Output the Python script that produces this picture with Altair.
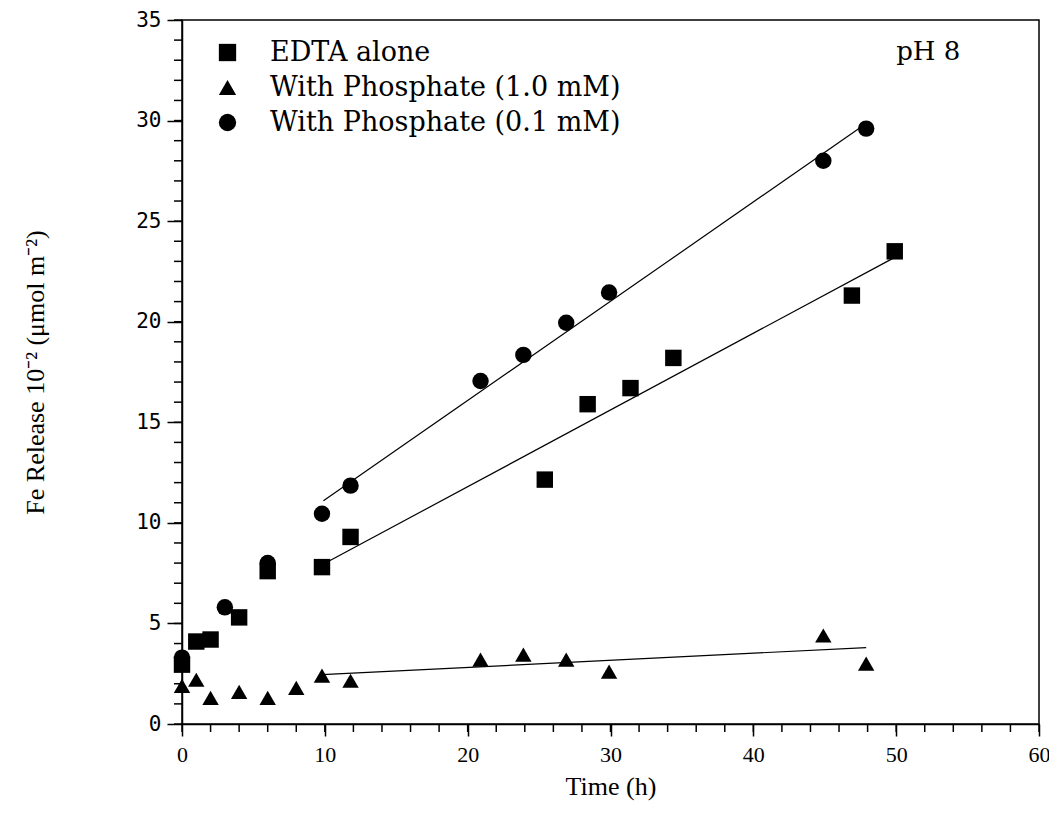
import altair as alt
import pandas as pd

series_names = ["EDTA alone", "With Phosphate (1.0 mM)", "With Phosphate (0.1 mM)"]

# EDTA alone (squares)
edta_t = [0, 1, 2, 4, 6, 9.8, 11.8, 25.4, 28.4, 31.4, 34.4, 46.9, 49.9]
edta_v = [2.95, 4.1, 4.2, 5.3, 7.6, 7.8, 9.3, 12.15, 15.9, 16.7, 18.2, 21.3, 23.5]

# With phosphate 1.0 mM (triangles)
p10_t = [0, 1, 2, 4, 6, 8, 9.8, 11.8, 20.9, 23.9, 26.9, 29.9, 44.9, 47.9]
p10_v = [1.9, 2.2, 1.3, 1.6, 1.3, 1.8, 2.4, 2.15, 3.2, 3.45, 3.2, 2.6, 4.4, 3.0]

# With phosphate 0.1 mM (circles)
p01_t = [0, 3, 6, 9.8, 11.8, 20.9, 23.9, 26.9, 29.9, 44.9, 47.9]
p01_v = [3.3, 5.8, 8.0, 10.45, 11.85, 17.05, 18.35, 19.95, 21.45, 28.0, 29.6]

# fitted lines (end points)
edta_fit_t = [10.3, 49.9]
edta_fit_v = [8.1, 23.2]
p10_fit_t = [9.8, 47.9]
p10_fit_v = [2.45, 3.8]
p01_fit_t = [9.9, 47.9]
p01_fit_v = [11.1, 29.85]

x_major = [0, 10, 20, 30, 40, 50, 60]
x_minor = list(range(0, 61, 2))
y_major = [0, 5, 10, 15, 20, 25, 30, 35]
y_minor = list(range(0, 36, 1))

annot_text = ["pH 8"]
annot_x = [50.0]
annot_y = [33.4]

PLOT_W, PLOT_H = 857, 704

rows = []
for name, ts, vs in zip(series_names, [edta_t, p10_t, p01_t], [edta_v, p10_v, p01_v]):
    for t, v in zip(ts, vs):
        rows.append({"series": name, "t": t, "v": v})
points = pd.DataFrame(rows)

frows = []
for name, ts, vs in zip(series_names, [edta_fit_t, p10_fit_t, p01_fit_t],
                        [edta_fit_v, p10_fit_v, p01_fit_v]):
    for t, v in zip(ts, vs):
        frows.append({"series": name, "t": t, "v": v})
fits = pd.DataFrame(frows)

annot = pd.DataFrame({"t": annot_x, "v": annot_y, "label": annot_text})
xminor_df = pd.DataFrame({"t": x_minor})
yminor_df = pd.DataFrame({"v": y_minor})

x_scale = alt.Scale(domain=[0, 60], nice=False, zero=False)
y_scale = alt.Scale(domain=[0, 35], nice=False, zero=False)

serif_title = "Liberation Serif"
legend_font = "DejaVu Serif"

x_axis = alt.Axis(values=x_major, orient="bottom", grid=False, tickSize=12,
                  title="Time (h)", titleFont=serif_title, titleFontSize=26,
                  titleFontWeight="normal", titleColor="black",
                  titleY=62, titleBaseline="middle",
                  labelFont="Liberation Sans Narrow", labelFontSize=22,
                  labelPadding=8, labelColor="black", labelFlush=False,
                  labelOverlap=False)
y_axis = alt.Axis(values=y_major, orient="left", grid=False, tickSize=15,
                  title="Fe Release 10\u207b\u00b2 (\u03bcmol m\u207b\u00b2)",
                  titleFont=serif_title, titleFontSize=26,
                  titleFontWeight="normal", titleColor="black",
                  titleX=-147, titleY=352, titleAngle=-90,
                  titleAlign="center", titleBaseline="middle",
                  labelFont="DejaVu Sans Mono", labelFontSize=21,
                  labelPadding=6, labelColor="black", labelOverlap=False)

lines = alt.Chart(fits).mark_line(color="black", strokeWidth=1.2).encode(
    x=alt.X("t:Q", scale=x_scale, axis=x_axis),
    y=alt.Y("v:Q", scale=y_scale, axis=y_axis),
    detail="series:N",
)

# minor ticks (every 2 h on x, every 1 unit on y), placed through the scales
xminor = alt.Chart(xminor_df).mark_rule(color="black", strokeWidth=1.5, clip=False).encode(
    x=alt.X("t:Q", scale=x_scale),
    y=alt.value(PLOT_H),
    y2=alt.value(PLOT_H + 8),
)
yminor = alt.Chart(yminor_df).mark_rule(color="black", strokeWidth=1.5, clip=False).encode(
    y=alt.Y("v:Q", scale=y_scale),
    x=alt.value(-8),
    x2=alt.value(0),
)

pts = alt.Chart(points).mark_point(filled=True, color="black", opacity=1, size=270).encode(
    x=alt.X("t:Q", scale=x_scale),
    y=alt.Y("v:Q", scale=y_scale),
    shape=alt.Shape("series:N",
                    scale=alt.Scale(domain=series_names,
                                    range=["square", "triangle-up", "circle"]),
                    legend=alt.Legend(orient="none", legendX=32, legendY=19,
                                      title=None, labelFont=legend_font,
                                      labelFontSize=27, labelColor="black",
                                      labelLimit=600, labelOffset=29,
                                      symbolSize=300, symbolFillColor="black",
                                      symbolStrokeColor="black",
                                      rowPadding=7, padding=0)),
)

ann = alt.Chart(annot).mark_text(font=legend_font, fontSize=26, color="black",
                                 align="left", baseline="middle").encode(
    x=alt.X("t:Q", scale=x_scale),
    y=alt.Y("v:Q", scale=y_scale),
    text="label:N",
)

chart = alt.layer(lines, xminor, yminor, pts, ann).properties(
    width=PLOT_W, height=PLOT_H, autosize="none",
    padding={"left": 174, "top": 12, "right": 10, "bottom": 96},
).configure_view(
    stroke="black", strokeWidth=1.5
).configure_axis(
    domainColor="black", domainWidth=1.5, tickColor="black", tickWidth=1.5,
)

chart.save("out.html", embed_options={"renderer": "svg", "actions": False})
